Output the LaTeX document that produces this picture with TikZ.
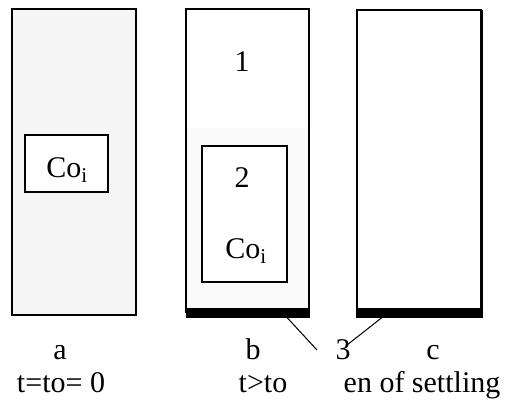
\documentclass[tikz,border=0pt]{standalone}
\usepackage{fontspec}
\setmainfont{Liberation Serif}
\begin{document}
\begin{tikzpicture}[x=1pt,y=-1pt,
  lbl/.style={font=\fontsize{30}{36}\selectfont, inner sep=0pt, anchor=base},
  panel/.style={draw=black, line width=2.2pt},
  inbox/.style={draw=black, line width=1.8pt},
  bar/.style={fill=black, draw=none},
  lead/.style={draw=black, line width=1pt}]
\useasboundingbox (0,0) rectangle (509,402);
% panel a
\draw[panel, line width=2.8pt, fill=black!4] (12,9) rectangle (136,315);
\draw[inbox, fill=white] (25,135) rectangle (108,192);
\node[lbl] (coa) at (67,177) {Co\textsubscript{i}};
% panel b
\fill[black!2] (186,128) rectangle (309,312);
\draw[panel] (186,9) rectangle (309,312);
\draw[inbox, fill=white] (202,146) rectangle (287,282);
\node[lbl] (one) at (242,71) {1};
\node[lbl] (two) at (242,187) {2};
\node[lbl] (cob) at (246,258) {Co\textsubscript{i}};
\node[bar, minimum width=124pt, minimum height=9.5pt, inner sep=0pt] (barb) at (247.5,313) {};
% panel c
\draw[panel] (357,10) rectangle (481,312);
\draw[black, line width=3pt] (481,10) -- (481,312);
\node[bar, minimum width=127pt, minimum height=10pt, inner sep=0pt] (barc) at (419.5,313) {};
% labels
\node[lbl] (la) at (60,359) {a};
\node[lbl] (ta) at (61,392) {t=to= 0};
\node[lbl] (lb) at (253,359) {b};
\node[lbl] (tb) at (263,392) {t>to};
\node[lbl] (lc) at (433,359) {c};
\node[lbl] (tc) at (422,392) {en of settling};
\node[lbl] (three) at (343,359) {3};
% leaders
\coordinate (pb) at (287,317.5);
\coordinate (pc) at (382,317.5);
\coordinate (e1) at (317,350);
\coordinate (e2) at (347,345);
\draw[lead] (pb) -- (e1);
\draw[lead] (pc) -- (e2);
\end{tikzpicture}
\end{document}
